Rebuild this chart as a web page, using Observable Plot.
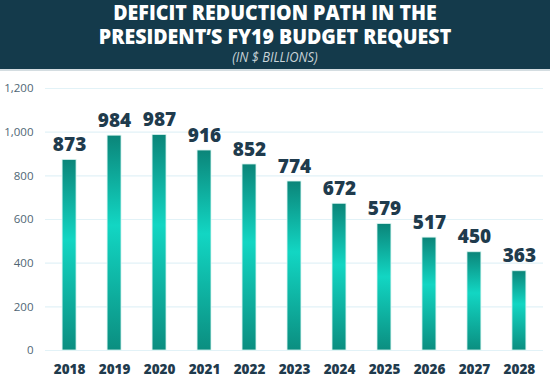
<!DOCTYPE html>
<html>
<head>
<meta charset="utf-8">
<script src="https://cdn.jsdelivr.net/npm/d3@7"></script>
<script src="https://cdn.jsdelivr.net/npm/@observablehq/plot@0.6"></script>
<style>
  html, body { margin: 0; padding: 0; background: #fff; }
  body { width: 550px; height: 386px; overflow: hidden; font-family: "Open Sans", sans-serif; }
  #header { background: #143a4b; height: 69px; border-bottom: 2px solid #d4dde1; text-align: center; color: #fff; overflow: hidden; }
  .tl { display: block; font-weight: 800; font-size: 21.5px; line-height: 23.5px; transform: scaleX(0.91); transform-origin: center; white-space: nowrap; }
  #subtitle { font-style: italic; font-size: 14px; color: #c9d3d8; line-height: 19px; transform: scaleX(0.92); }
</style>
</head>
<body>
<div id="header">
  <div class="tl" id="t1">DEFICIT REDUCTION PATH IN THE</div>
  <div class="tl" id="t2">PRESIDENT’S FY19 BUDGET REQUEST</div>
  <div id="subtitle">(IN $ BILLIONS)</div>
</div>
<div id="chart"></div>
<script>
const years = ["2018","2019","2020","2021","2022","2023","2024","2025","2026","2027","2028"];
const deficits = [873, 984, 987, 916, 852, 774, 672, 579, 517, 450, 363];
const yTicks = [0, 200, 400, 600, 800, 1000, 1200];

const data = years.map((y, i) => ({year: y, value: deficits[i]}));

function gradientDefs() {
  const ns = "http://www.w3.org/2000/svg";
  const defs = document.createElementNS(ns, "defs");
  const lg = document.createElementNS(ns, "linearGradient");
  lg.setAttribute("id", "barGrad");
  lg.setAttribute("x1", "0"); lg.setAttribute("y1", "0");
  lg.setAttribute("x2", "0"); lg.setAttribute("y2", "1");
  [["0", "#0b8579"], ["0.42", "#12d6c3"], ["1", "#0b8e80"]].forEach(([o, c]) => {
    const s = document.createElementNS(ns, "stop");
    s.setAttribute("offset", o); s.setAttribute("stop-color", c);
    lg.appendChild(s);
  });
  defs.appendChild(lg);
  return defs;
}

const chart = Plot.plot({
  width: 550,
  height: 315,
  marginTop: 17,
  marginBottom: 36,
  marginLeft: 45,
  marginRight: 7,
  style: { fontFamily: "'Open Sans', sans-serif", background: "#fff" },
  x: { domain: years, paddingInner: 0.69, paddingOuter: 0.38, round: false, label: null },
  y: { domain: [0, 1200], label: null },
  marks: [
    gradientDefs,
    Plot.ruleY(yTicks, { stroke: "#e2f2f7", strokeWidth: 1.2 }),
    Plot.axisY({ ticks: yTicks, tickSize: 0, tickPadding: 12, tickFormat: d3.format(","), fontSize: 11.5, color: "#4f6674", label: null }),
    Plot.axisX({ tickSize: 0, tickPadding: 14, fontSize: 13.5, fontWeight: 800, color: "#1f3b4d", label: null }),
    Plot.barY(data, { x: "year", y: "value", fill: "url(#barGrad)", stroke: "#d9f4f0", strokeWidth: 0.8 }),
    Plot.text(data, { x: "year", y: "value", text: d => String(d.value), dy: -15, fontSize: 19, fontWeight: 800, fill: "#1f3b4d" })
  ]
});
document.getElementById("chart").appendChild(chart);
</script>
</body>
</html>
